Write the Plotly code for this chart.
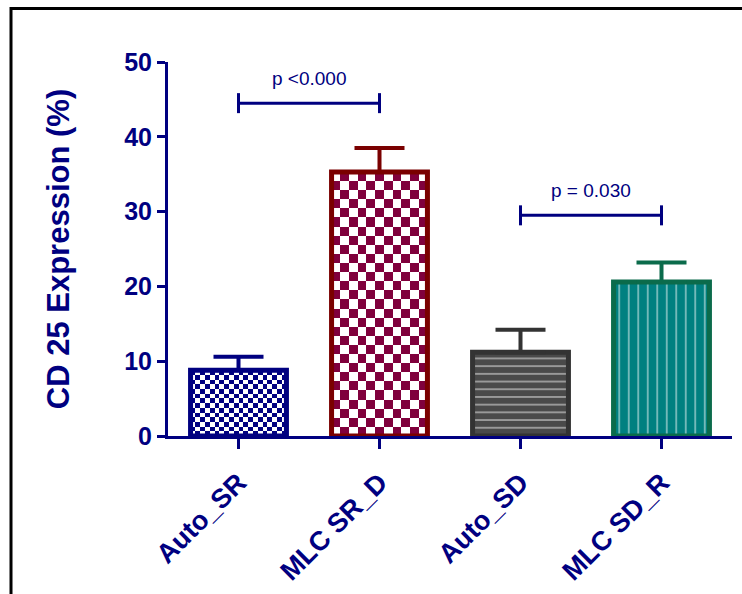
import numpy as np
import plotly.graph_objects as go

# ---- data ----
categories = ["Auto_SR", "MLC SR_D", "Auto_SD", "MLC SD_R"]
means = [8.8, 35.3, 11.2, 20.6]
sems = [1.8, 3.2, 3.0, 2.6]
bracket_pairs = [(0, 1), (2, 3)]
bracket_heights = [44.5, 29.5]
p_labels = ["p <0.000", "p = 0.030"]

# ---- style ----
NAVY = "#000080"
border_colors = ["#000080", "#7a0000", "#333333", "#0b6b4b"]
fill_colors = ["#000080", "#80003c", "#4a4a4a", "#008080"]
fill_kind = ["checker", "checker", "-", "|"]
checker_cell_px = [4.8, 9.0, None, None]
pattern_size = [None, None, 7.7, 9.5]
pattern_solidity = [None, None, 0.22, 0.18]

W, H = 742, 594
ML, MR, MT, MB = 168, 10, 62, 158
plot_w = W - ML - MR
plot_h = H - MT - MB
x_range = [-0.5, len(categories) - 0.5]
y_range = [0, 50]
px_x = plot_w / (x_range[1] - x_range[0])
px_y = plot_h / (y_range[1] - y_range[0])
bar_w = 0.68
FONT = "Liberation Sans, Arial, sans-serif"

fig = go.Figure()

# checkerboard fills (heatmaps) drawn under the bar outlines
for i, (m, kind) in enumerate(zip(means, fill_kind)):
    if kind != "checker":
        continue
    cell = checker_cell_px[i]
    ncols = max(1, int(round(bar_w * px_x / cell)))
    nrows = max(1, int(round(m * px_y / cell)))
    xe = np.linspace(i - bar_w / 2, i + bar_w / 2, ncols + 1)
    ye = np.linspace(0, m, nrows + 1)
    z = [[(r + c) % 2 for c in range(ncols)] for r in range(nrows)]
    fig.add_trace(go.Heatmap(
        x=xe, y=ye, z=z, zmin=0, zmax=1,
        colorscale=[[0, "white"], [1, fill_colors[i]]],
        showscale=False, hoverinfo="skip",
    ))

# bars with outlines and SEM error bars
for i, (m, s) in enumerate(zip(means, sems)):
    kind = fill_kind[i]
    if kind == "checker":
        marker = dict(color="rgba(0,0,0,0)",
                      line=dict(color=border_colors[i], width=5))
    else:
        marker = dict(color=fill_colors[i],
                      line=dict(color=border_colors[i], width=5),
                      pattern=dict(shape=kind, fgcolor="white",
                                   bgcolor=fill_colors[i], fillmode="overlay",
                                   size=pattern_size[i],
                                   solidity=pattern_solidity[i]))
    fig.add_trace(go.Bar(
        x=[i], y=[m], width=bar_w, marker=marker,
        error_y=dict(type="data", array=[s], arrayminus=[0], symmetric=False,
                     color=border_colors[i], thickness=4, width=25),
        hoverinfo="skip", showlegend=False,
    ))

# significance brackets
end_half = 10 / px_y
for (a, b), h, lab in zip(bracket_pairs, bracket_heights, p_labels):
    fig.add_trace(go.Scatter(
        x=[a, a, None, a, b, None, b, b],
        y=[h - end_half, h + end_half, None, h, h, None, h - end_half, h + end_half],
        mode="lines", line=dict(color=NAVY, width=3),
        hoverinfo="skip", showlegend=False,
    ))
    fig.add_annotation(x=(a + b) / 2, y=h, text=lab, showarrow=False,
                       yanchor="bottom", yshift=12,
                       font=dict(family=FONT, size=19, color=NAVY))

# outer frame
fig.add_shape(type="rect", xref="paper", yref="paper",
              x0=(11 - ML) / plot_w, x1=(W + 20 - ML) / plot_w,
              y0=-(H + 20 - (MT + plot_h)) / plot_h, y1=(MT + plot_h - 8.5) / plot_h,
              line=dict(color="black", width=3), fillcolor="rgba(0,0,0,0)")

fig.update_layout(
    width=W, height=H,
    margin=dict(l=ML, r=MR, t=MT, b=MB, pad=0, autoexpand=False),
    paper_bgcolor="white", plot_bgcolor="white",
    barmode="overlay", showlegend=False,
    font=dict(family=FONT, color=NAVY),
)
fig.update_xaxes(
    range=x_range, tickvals=list(range(len(categories))), ticktext=categories,
    tickangle=-45, tickfont=dict(family=FONT, size=27, color=NAVY, weight="bold"),
    ticklabelstandoff=7, automargin=False,
    showline=True, linecolor=NAVY, linewidth=3, ticks="outside", ticklen=10,
    tickwidth=3, tickcolor=NAVY, showgrid=False, zeroline=False,
)
fig.update_yaxes(
    range=y_range, tickvals=[0, 10, 20, 30, 40, 50], automargin=False,
    tickfont=dict(family=FONT, size=25, color=NAVY, weight="bold"),
    showline=True, linecolor=NAVY, linewidth=3, ticks="outside", ticklen=8,
    tickwidth=3, tickcolor=NAVY, showgrid=False, zeroline=False,
    title=dict(text="CD 25 Expression (%)", standoff=46,
               font=dict(family=FONT, size=31, color=NAVY, weight="bold")),
)

fig.write_html("out.html")
